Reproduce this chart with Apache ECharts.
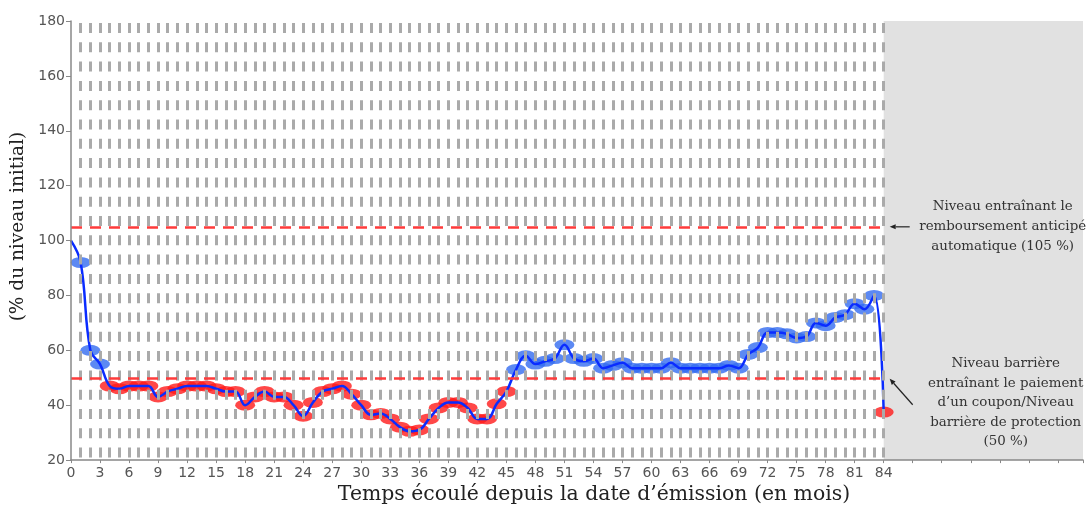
<!DOCTYPE html>
<html>
<head>
<meta charset="utf-8">
<script src="https://cdn.jsdelivr.net/npm/echarts@6/dist/echarts.min.js"></script>
<style>
html,body{margin:0;padding:0;background:#fff;}
#chart{width:1086px;height:510px;}
</style>
</head>
<body>
<div id="chart"></div>
<script>
// ---- data ----
const months = [0,1,2,3,4,5,6,7,8,9,10,11,12,13,14,15,16,17,18,19,20,21,22,23,24,25,26,27,28,29,30,31,32,33,34,35,36,37,38,39,40,41,42,43,44,45,46,47,48,49,50,51,52,53,54,55,56,57,58,59,60,61,62,63,64,65,66,67,68,69,70,71,72,73,74,75,76,77,78,79,80,81,82,83,84];
const levels = [100,92,60,55,47,46,47,47,47,43,45,46,47,47,47,46,45,45,40,43,45,43,43,40,36,41,45,46,47,44,40,36.5,37,35,32,30.5,31,35,39,41,41,39,35,35,40.5,45,53,58,55,56,57,62,57,56,57,53.5,54.5,55.5,53.5,53.5,53.5,53.5,55.5,53.5,53.5,53.5,53.5,53.5,54.5,53.5,58.5,61,66.5,66.5,66,64.5,65,70,69,72,73,77,75,80,37.5];
const autocallLevel = 105;   // % niveau de remboursement anticipé
const barrierLevel = 50;     // % niveau barrière
const lastMonth = 84;
const yTicks = [20,40,60,80,100,120,140,160,180];
const xTickStep = 3;
const annotAutocall = "Niveau entraînant le\nremboursement anticipé\nautomatique (105 %)";
const annotBarrier = "Niveau barrière\nentraînant le paiement\nd’un coupon/Niveau\nbarrière de protection\n(50 %)";
const xTitle = "Temps écoulé depuis la date d’émission (en mois)";
const yTitle = "(% du niveau initial)";

// ---- build ----
const lineData = months.map((m,i)=>[m, levels[i]]);
const markerData = months.slice(1).map((m,i)=>{
  const v = levels[i+1];
  return {value:[m,v], itemStyle:{color: v < barrierLevel ? '#ff1a1a' : '#336cf0'}};
});
const gridMarks = months.slice(1).map(m=>[{coord:[m, yTicks[yTicks.length-1]]},{coord:[m, yTicks[0]]}]);

const chart = echarts.init(document.getElementById('chart'), null, {renderer:'canvas'});
const XMAX = 104.6;
const option = {
  animation:false,
  backgroundColor:'#ffffff',
  grid:{left:71, top:21, right:0, bottom:48, containLabel:false},
  xAxis:{
    type:'value', min:0, max:XMAX, interval:xTickStep, z:5,
    name:xTitle, nameLocation:'middle', nameGap:24,
    nameTextStyle:{fontFamily:'DejaVu Serif', fontSize:20.4, color:'#222', padding:[0,0,0,34], verticalAlign:'top'},
    axisLine:{lineStyle:{color:'#888', width:1.5}},
    axisTick:{show:true, length:3, lineStyle:{color:'#888'}},
    splitLine:{show:false},
    axisLabel:{color:'#555', fontFamily:'DejaVu Sans', fontSize:14, margin:6,
      formatter:v=> v<=lastMonth ? String(v) : ''}
  },
  yAxis:{
    type:'value', min:yTicks[0], max:yTicks[yTicks.length-1], interval:20, z:5,
    name:yTitle, nameLocation:'middle', nameGap:38,
    nameTextStyle:{fontFamily:'DejaVu Serif', fontSize:18.5, color:'#222', padding:[0,0,0,28]},
    axisLine:{show:true, lineStyle:{color:'#888', width:1.5}},
    axisTick:{show:true, length:5, lineStyle:{color:'#888'}},
    splitLine:{show:false},
    axisLabel:{color:'#555', fontFamily:'DejaVu Sans', fontSize:14, margin:6}
  },
  series:[
    {
      type:'scatter', z:1, data:markerData, symbol:'circle', symbolSize:[20,11], silent:true,
      markArea:{silent:true, itemStyle:{color:'#e1e1e1'},
        data:[[{coord:[lastMonth, yTicks[0]]},{coord:[XMAX, yTicks[yTicks.length-1]]}]]}
    },
    {
      type:'line', z:2, data:[], silent:true,
      markLine:{silent:true, symbol:['none','none'], label:{show:false},
        lineStyle:{color:'#aaaaaa', width:3, type:[10,9.3], dashOffset:-2},
        emphasis:{disabled:true},
        data:gridMarks}
    },
    {
      type:'line', z:3, data:[], silent:true,
      markLine:{silent:true, symbol:['none','none'], label:{show:false},
        lineStyle:{color:'#ff3b3b', width:2.5, type:[11,8]},
        emphasis:{disabled:true},
        data:[
          [{coord:[0, autocallLevel]},{coord:[lastMonth, autocallLevel]}],
          [{coord:[0, barrierLevel]},{coord:[lastMonth, barrierLevel]}]
        ]}
    },
    {
      type:'line', z:4, data:lineData, smooth:0.4, showSymbol:false, silent:true,
      lineStyle:{color:'#0a2cff', width:2.5}
    }
  ]
};
chart.setOption(option);

const pA = chart.convertToPixel({gridIndex:0}, [lastMonth, autocallLevel]);
const pB = chart.convertToPixel({gridIndex:0}, [lastMonth, barrierLevel]);
function arrow(x1,y1,x2,y2){
  const ang = Math.atan2(y2-y1, x2-x1), L=6, W=2.5;
  const bx = x2 - L*Math.cos(ang), by = y2 - L*Math.sin(ang);
  const nx = -Math.sin(ang), ny = Math.cos(ang);
  return [
    {type:'line', shape:{x1:x1,y1:y1,x2:bx,y2:by}, style:{stroke:'#222', lineWidth:1.2}, z:10},
    {type:'polygon', shape:{points:[[x2,y2],[bx+nx*W,by+ny*W],[bx-nx*W,by-ny*W]]}, style:{fill:'#222'}, z:10}
  ];
}
const txtStyle = {fontFamily:'DejaVu Serif', fontSize:13.4, fill:'#333', align:'center', verticalAlign:'middle', lineHeight:20};
chart.setOption({graphic:[
  ...arrow(pA[0]+26, pA[1], pA[0]+6, pA[1]),
  {type:'text', x:pA[0]+119, y:pA[1], style:Object.assign({text:annotAutocall}, txtStyle), z:10},
  ...arrow(pB[0]+29, pB[1]+27, pB[0]+6, pB[1]+1),
  {type:'text', x:pB[0]+122, y:pB[1]+25, style:Object.assign({text:annotBarrier}, txtStyle, {lineHeight:19.5}), z:10}
]});
</script>
</body>
</html>
